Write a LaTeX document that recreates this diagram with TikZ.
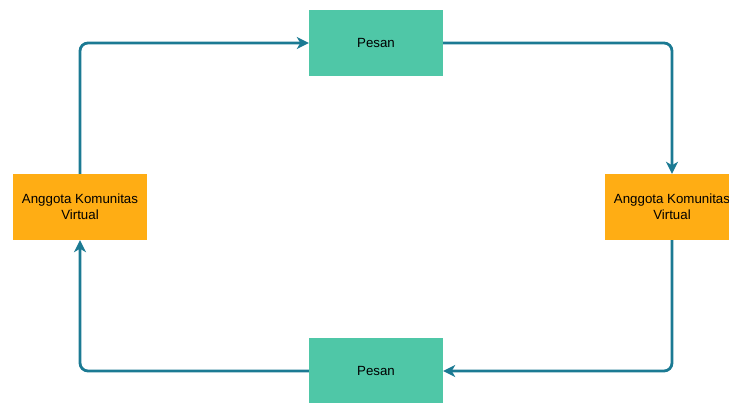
\documentclass[tikz,border=0pt]{standalone}
\usepackage{fontspec}
\setmainfont{Liberation Sans}
\usetikzlibrary{arrows.meta}
\definecolor{pesanhijau}{HTML}{4FC7A7}
\definecolor{anggotaoren}{HTML}{FFAD14}
\definecolor{panah}{HTML}{1B7A93}
\begin{document}
\begin{tikzpicture}[x=1pt,y=-1pt,
    every node/.style={minimum width=134pt,minimum height=66pt,inner sep=0pt,
      font=\fontsize{13.3}{16}\selectfont,align=center},
    pesan/.style={fill=pesanhijau},
    anggota/.style={fill=anggotaoren},
    alur/.style={draw=panah,line width=2.8pt,rounded corners=8pt,
      -{Stealth[length=12pt,width=12pt,inset=3.5pt]}}]
  \useasboundingbox (0,0) rectangle (729,403);
    \node[pesan] (p1) at (376,43) {Pesan};
    \node[pesan] (p2) at (376,371) {Pesan};
    \node[anggota] (a1) at (80,207) {Anggota Komunitas\\Virtual};
    \node[anggota] (a2) at (672,207) {Anggota Komunitas\\Virtual};
    \draw[alur] (a1.north) |- (p1.west);
    \draw[alur] (p1.east) -| (a2.north);
    \draw[alur] (a2.south) |- (p2.east);
    \draw[alur] (p2.west) -| (a1.south);
\end{tikzpicture}
\end{document}
